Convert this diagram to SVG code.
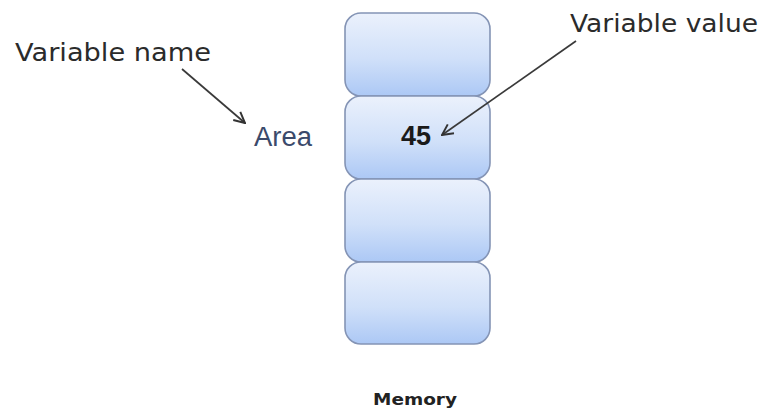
<svg xmlns="http://www.w3.org/2000/svg" width="765" height="409" viewBox="0 0 765 409">
<defs>
<linearGradient id="cellGrad" x1="0" y1="0" x2="0" y2="1">
<stop offset="0" stop-color="#ebf1fc"/>
<stop offset="0.55" stop-color="#d0e0f9"/>
<stop offset="1" stop-color="#acc8f5"/>
</linearGradient>
<marker id="openArrow" viewBox="0 0 12 12" refX="11" refY="6" markerWidth="13" markerHeight="13" markerUnits="userSpaceOnUse" orient="auto">
<path d="M1,1 L11,6 L1,11" fill="none" stroke="#333" stroke-width="1.8"/>
</marker>
</defs>
<style>
.cell{fill:url(#cellGrad);stroke:#8494b5;stroke-width:1.6}
.label{font-family:"DejaVu Sans",Verdana,sans-serif;fill:#2b2b2b}
.conn{stroke:#3a3a3a;stroke-width:1.7;fill:none}
</style>
<rect width="765" height="409" fill="#ffffff"/>
<g id="cell1"><rect class="cell" x="345" y="13" width="145" height="83" rx="16" ry="16"/></g>
<g id="cell2"><rect class="cell" x="345" y="96" width="145" height="83" rx="16" ry="16"/>
<text x="401" y="145" font-family="'Liberation Sans',Arial,sans-serif" font-weight="bold" font-size="27" fill="#1a1a1a">45</text></g>
<g id="cell3"><rect class="cell" x="345" y="179" width="145" height="83" rx="16" ry="16"/></g>
<g id="cell4"><rect class="cell" x="345" y="262" width="145" height="82" rx="16" ry="16"/></g>
<g id="varname"><text class="label" x="15" y="61" font-size="25" textLength="196" lengthAdjust="spacingAndGlyphs">Variable name</text></g>
<g id="varvalue"><text class="label" x="570" y="32" font-size="25" textLength="188" lengthAdjust="spacingAndGlyphs">Variable value</text></g>
<g id="area"><text x="254" y="146" font-family="'Liberation Sans',Arial,sans-serif" font-size="27" fill="#3b4a6b" textLength="58" lengthAdjust="spacingAndGlyphs">Area</text></g>
<g id="memory"><text x="373" y="405" font-family="'DejaVu Sans',Verdana,sans-serif" font-weight="bold" font-size="16" fill="#222" textLength="84" lengthAdjust="spacingAndGlyphs">Memory</text></g>
<g id="connectors">
<line class="conn" x1="182" y1="69" x2="245" y2="123" marker-end="url(#openArrow)"/>
<line class="conn" x1="576" y1="41" x2="442" y2="135" marker-end="url(#openArrow)"/>
</g>
</svg>
